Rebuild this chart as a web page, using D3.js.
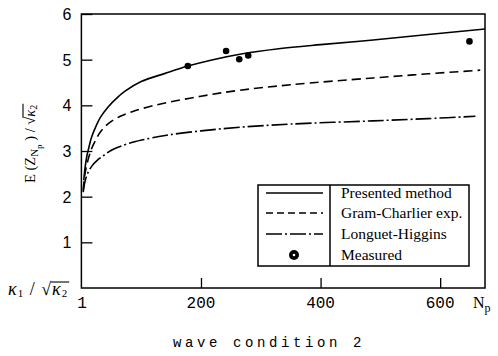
<!DOCTYPE html>
<html><head><meta charset="utf-8">
<script src="https://cdn.jsdelivr.net/npm/d3@7"></script>
<style>body{margin:0;background:#fff}svg{display:block}</style>
</head><body>
<script>
const xTicks = [1, 200, 400, 600];
const yTicks = [1, 2, 3, 4, 5, 6];
const presentedX = [4, 6, 9, 12, 17, 23, 32, 45, 60, 73, 100, 140, 178, 220, 265, 330, 400, 488, 580, 675];
const presentedY = [2.36, 2.62, 2.88, 3.05, 3.3, 3.5, 3.74, 3.97, 4.17, 4.31, 4.52, 4.70, 4.86, 5.0, 5.12, 5.24, 5.33, 5.43, 5.55, 5.67];
const gramX = [3, 6, 11, 17, 23, 32, 45, 65, 85, 110, 140, 200, 265, 350, 488, 580, 667];
const gramY = [2.14, 2.5, 2.8, 3.05, 3.22, 3.42, 3.6, 3.76, 3.86, 3.96, 4.05, 4.2, 4.33, 4.45, 4.6, 4.69, 4.77];
const lhX = [3, 6, 10, 18, 26, 35, 48, 61, 80, 101, 140, 200, 265, 350, 488, 580, 659];
const lhY = [2.1, 2.33, 2.5, 2.68, 2.79, 2.88, 3.0, 3.08, 3.17, 3.24, 3.34, 3.44, 3.52, 3.59, 3.66, 3.71, 3.76];
const measX = [178, 242, 264, 279, 649];
const measY = [4.86, 5.19, 5.01, 5.09, 5.40];
const legendLabels = ["Presented method", "Gram-Charlier exp.", "Longuet-Higgins", "Measured"];

const W = 498, H = 356;
const svg = d3.select("body").append("svg").attr("width", W).attr("height", H);
const x = d3.scaleLinear().domain([0, 675]).range([81.4, 485]);
const y = d3.scaleLinear().domain([0, 6]).range([288, 14]);
const serif = "Liberation Serif, Times New Roman, serif";

// frame
svg.append("rect").attr("x", x(0)).attr("y", y(6)).attr("width", x(675) - x(0)).attr("height", y(0) - y(6))
  .attr("fill", "none").attr("stroke", "#000").attr("stroke-width", 1.5);

// y axis ticks inward
const yAxis = d3.axisRight(y).tickValues(yTicks).tickSize(11).tickFormat("");
const gy = svg.append("g").attr("transform", `translate(${x(0)},0)`).call(yAxis);
gy.select(".domain").remove();
gy.selectAll("line").attr("stroke-width", 1.3);
svg.append("g").selectAll("text").data(yTicks).join("text")
  .attr("x", 67).attr("y", d => y(d) + 6).attr("text-anchor", "middle")
  .attr("font-family", "Liberation Sans, Arial, sans-serif").attr("font-size", 16).text(d => d);

// x axis ticks inward (upward)
const xAxis = d3.axisTop(x).tickValues(xTicks.filter(d => d > 1)).tickSize(10).tickFormat("");
const gx = svg.append("g").attr("transform", `translate(0,${y(0)})`).call(xAxis);
gx.select(".domain").remove();
gx.selectAll("line").attr("stroke-width", 1.3);
svg.append("g").selectAll("text").data(xTicks).join("text")
  .attr("x", d => x(d)).attr("y", 308).attr("text-anchor", "middle")
  .attr("font-family", "Liberation Mono, Courier New, monospace").attr("font-size", 16).text(d => d);

// Np label
const np = svg.append("text").attr("x", 473).attr("y", 308)
  .attr("font-family", serif).attr("font-size", 16);
np.append("tspan").text("N");
np.append("tspan").attr("font-size", 12).attr("dy", 4).text("p");

function radical(g, textSel, tspanNode, yTop) {
  const t = textSel.node();
  const n = t.getNumberOfChars();
  let idx = 0;
  const walker = document.createTreeWalker(t, NodeFilter.SHOW_TEXT);
  let node;
  while ((node = walker.nextNode())) {
    if (node.parentNode === tspanNode) break;
    idx += node.textContent.length;
  }
  const x1 = t.getStartPositionOfChar(idx).x;
  const x2 = t.getEndPositionOfChar(n - 1).x;
  g.append("line").attr("x1", x1 - 1).attr("x2", x2 + 1).attr("y1", yTop).attr("y2", yTop)
    .attr("stroke", "#000").attr("stroke-width", 1.1);
}

// kappa label at origin
const kg = svg.append("g");
const kl = kg.append("text").attr("x", 8).attr("y", 295)
  .attr("font-family", serif).attr("font-size", 18).attr("letter-spacing", 1);
kl.append("tspan").attr("font-style", "italic").text("κ");
kl.append("tspan").attr("font-size", 11).attr("dy", 2).text("1");
kl.append("tspan").attr("dy", -2).text(" / √");
const kk = kl.append("tspan").attr("font-style", "italic").text("κ");
kl.append("tspan").attr("font-size", 11).attr("dy", 2).text("2");
radical(kg, kl, kk.node(), 282);

// y label (starts at bottom, reads upward)
const yg = svg.append("g").attr("transform", "translate(35,183) rotate(-90)");
const yl = yg.append("text").attr("x", 0).attr("y", 0).attr("text-anchor", "start")
  .attr("font-family", serif).attr("font-size", 14.5);
yl.append("tspan").text("E (Z");
yl.append("tspan").attr("font-size", 11).attr("dy", 3).text("N");
yl.append("tspan").attr("font-size", 9).attr("dy", 4).text("p");
yl.append("tspan").attr("dy", -7).text(" ) / √");
const yk = yl.append("tspan").attr("font-style", "italic").text("κ");
yl.append("tspan").attr("font-size", 10).attr("dy", 2).text("2");
radical(yg, yl, yk.node(), -12);

// x title
svg.append("text").attr("x", 269).attr("y", 347).attr("text-anchor", "middle")
  .attr("font-family", "Liberation Mono, Courier New, monospace").attr("font-size", 14)
  .attr("letter-spacing", 3.6).text("wave condition 2");

// curves
const line = d3.line().x(d => x(d[0])).y(d => y(d[1])).curve(d3.curveCatmullRom);
const series = [
  {xs: presentedX, ys: presentedY, dash: null},
  {xs: gramX, ys: gramY, dash: "9,5"},
  {xs: lhX, ys: lhY, dash: "16,3,2,3"}
];
series.forEach(s => {
  svg.append("path").attr("d", line(s.xs.map((v, i) => [v, s.ys[i]])))
    .attr("fill", "none").attr("stroke", "#000").attr("stroke-width", 1.6)
    .attr("stroke-dasharray", s.dash);
});
svg.append("g").selectAll("circle").data(measX.map((v, i) => [v, measY[i]])).join("circle")
  .attr("cx", d => x(d[0])).attr("cy", d => y(d[1])).attr("r", 3.3).attr("fill", "#000");

// legend
const lg = svg.append("g");
lg.append("rect").attr("x", 258).attr("y", 185).attr("width", 211).attr("height", 81)
  .attr("fill", "#fff").attr("stroke", "#000").attr("stroke-width", 1.5);
lg.append("line").attr("x1", 330).attr("x2", 330).attr("y1", 185).attr("y2", 266).attr("stroke", "#000").attr("stroke-width", 1.5);
const rows = [193, 213, 234, 255];
const dashes = [null, "7,4", "16,3,2,3"];
legendLabels.forEach((lab, i) => {
  if (i < 3) {
    lg.append("line").attr("x1", 266).attr("x2", 323).attr("y1", rows[i]).attr("y2", rows[i])
      .attr("stroke", "#000").attr("stroke-width", 1.5).attr("stroke-dasharray", dashes[i]);
  } else {
    lg.append("circle").attr("cx", 294).attr("cy", rows[i]).attr("r", 5).attr("fill", "#000");
    lg.append("circle").attr("cx", 294).attr("cy", rows[i]).attr("r", 1.3).attr("fill", "#fff");
  }
  lg.append("text").attr("x", 341).attr("y", rows[i] + 5).attr("font-family", serif)
    .attr("font-size", 15.5).text(lab);
});
</script>
</body></html>
